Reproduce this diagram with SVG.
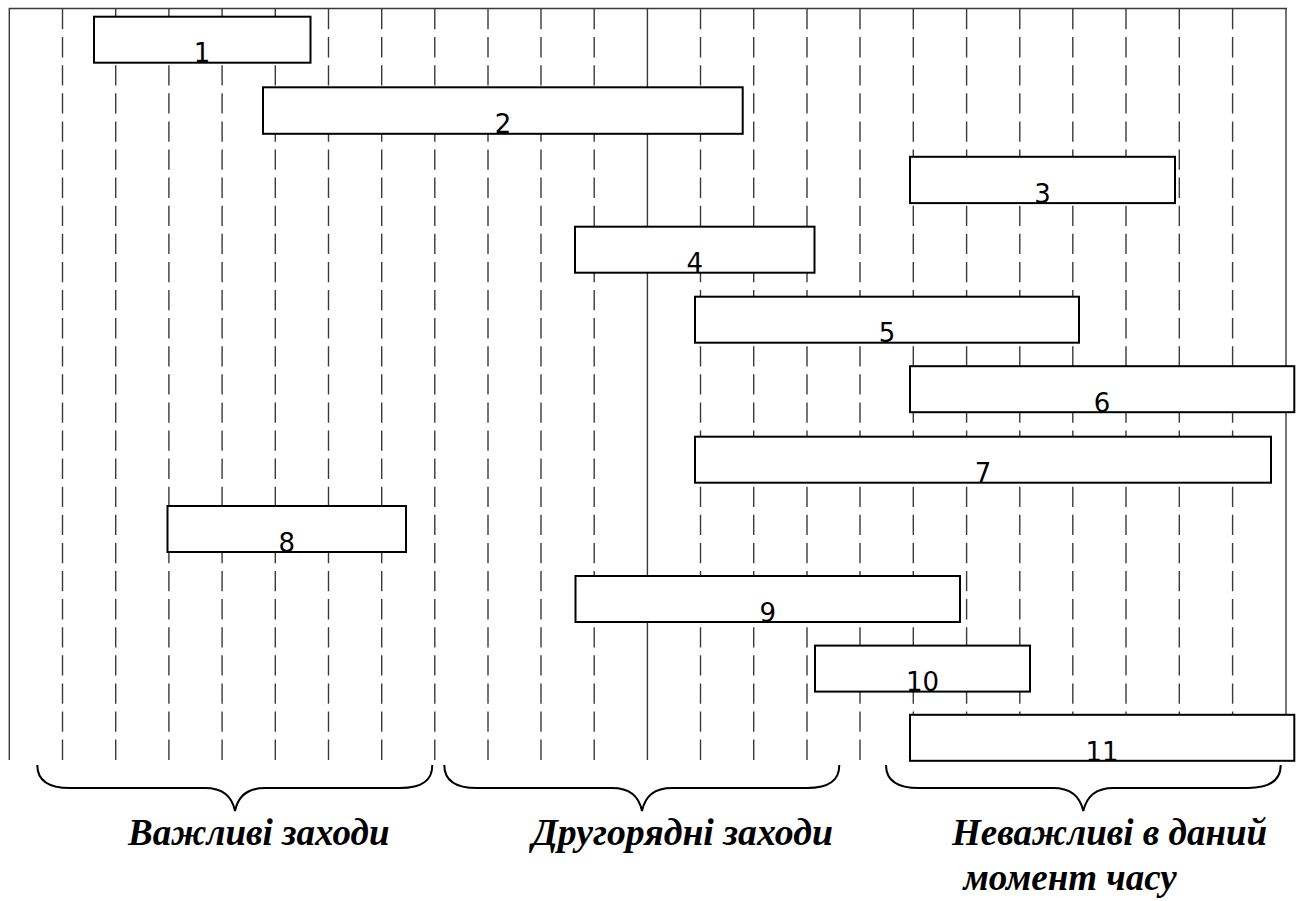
<svg xmlns="http://www.w3.org/2000/svg" width="1304" height="901" viewBox="0 0 1304 901">
<style>
.grid{stroke:#3a3a3a;stroke-width:1.4;fill:none}
.dash{stroke-dasharray:20.3 7.8}
.bar{fill:#fff;stroke:#000;stroke-width:2}
.num{font-family:"DejaVu Sans","Liberation Sans",sans-serif;font-size:26px;text-anchor:middle;fill:#000}
.brace{fill:none;stroke:#000;stroke-width:2}
.cap{font-family:"Liberation Serif","Times New Roman",serif;font-size:37px;font-weight:bold;font-style:italic;fill:#000}
</style>
<g id="grid">
<line class="grid" x1="9" y1="8.5" x2="1287" y2="8.5"/>
<line class="grid" x1="9.3" y1="8" x2="9.3" y2="760"/>
<line class="grid" x1="647.4" y1="8" x2="647.4" y2="760"/>
<line class="grid" x1="1286" y1="8" x2="1286" y2="760"/>
<g class="grid dash">
<line x1="62.5" y1="9" x2="62.5" y2="760"/>
<line x1="115.7" y1="9" x2="115.7" y2="760"/>
<line x1="168.9" y1="9" x2="168.9" y2="760"/>
<line x1="222.1" y1="9" x2="222.1" y2="760"/>
<line x1="275.3" y1="9" x2="275.3" y2="760"/>
<line x1="328.5" y1="9" x2="328.5" y2="760"/>
<line x1="381.7" y1="9" x2="381.7" y2="760"/>
<line x1="434.8" y1="9" x2="434.8" y2="760"/>
<line x1="488" y1="9" x2="488" y2="760"/>
<line x1="541" y1="9" x2="541" y2="760"/>
<line x1="594.2" y1="9" x2="594.2" y2="760"/>
<line x1="700.5" y1="9" x2="700.5" y2="760"/>
<line x1="753.7" y1="9" x2="753.7" y2="760"/>
<line x1="807" y1="9" x2="807" y2="760"/>
<line x1="860" y1="9" x2="860" y2="760"/>
<line x1="913.3" y1="9" x2="913.3" y2="760"/>
<line x1="966.6" y1="9" x2="966.6" y2="760"/>
<line x1="1019.8" y1="9" x2="1019.8" y2="760"/>
<line x1="1072.8" y1="9" x2="1072.8" y2="760"/>
<line x1="1126" y1="9" x2="1126" y2="760"/>
<line x1="1179.3" y1="9" x2="1179.3" y2="760"/>
<line x1="1232.6" y1="9" x2="1232.6" y2="760"/>
</g>
</g>
<g id="connectors"></g>
<g id="bar1"><rect class="bar" x="94" y="16.7" width="216.5" height="46"/><text class="num" x="202" y="62">1</text></g>
<g id="bar2"><rect class="bar" x="263" y="87.3" width="479.7" height="46.5"/><text class="num" x="503" y="133">2</text></g>
<g id="bar3"><rect class="bar" x="910" y="156.8" width="265" height="46.3"/><text class="num" x="1042.5" y="202.5">3</text></g>
<g id="bar4"><rect class="bar" x="575" y="226.7" width="239.5" height="46"/><text class="num" x="694.7" y="272">4</text></g>
<g id="bar5"><rect class="bar" x="695" y="296.7" width="384" height="46"/><text class="num" x="887" y="342">5</text></g>
<g id="bar6"><rect class="bar" x="910" y="366.2" width="384.3" height="46"/><text class="num" x="1102" y="411.5">6</text></g>
<g id="bar7"><rect class="bar" x="695" y="436.7" width="576" height="46"/><text class="num" x="983" y="482">7</text></g>
<g id="bar8"><rect class="bar" x="167.5" y="506" width="238.5" height="46"/><text class="num" x="286.7" y="551.5">8</text></g>
<g id="bar9"><rect class="bar" x="575.5" y="576" width="384.5" height="46"/><text class="num" x="767.7" y="621.5">9</text></g>
<g id="bar10"><rect class="bar" x="815" y="645.6" width="215" height="46"/><text class="num" x="922.5" y="691">10</text></g>
<g id="bar11"><rect class="bar" x="910" y="714.8" width="384.3" height="46"/><text class="num" x="1102" y="760.5">11</text></g>
<g id="brace1"><path class="brace" d="M37.3,765 C37.3,780 47,788 70,788 L205,788 C222,788 232,796 235,811 C238,796 248,788 265,788 L400,788 C423,788 432.3,780 432.3,765"/><text class="cap" x="128" y="845">Важливі заходи</text></g>
<g id="brace2"><path class="brace" d="M444.3,765 C444.3,780 454,788 477,788 L612,788 C629,788 639,796 642,811 C645,796 655,788 672,788 L807,788 C830,788 839.3,780 839.3,765"/><text class="cap" x="532" y="845" textLength="301" lengthAdjust="spacingAndGlyphs">Другорядні заходи</text></g>
<g id="brace3"><path class="brace" d="M886,765 C886,780 896,788 919,788 L1053,788 C1070,788 1080,796 1083.3,811 C1086.6,796 1096.6,788 1113.6,788 L1248,788 C1271,788 1280.7,780 1280.7,765"/><text class="cap" x="952" y="845">Неважливі в даний</text><text class="cap" x="963.5" y="890">момент часу</text></g>
</svg>
